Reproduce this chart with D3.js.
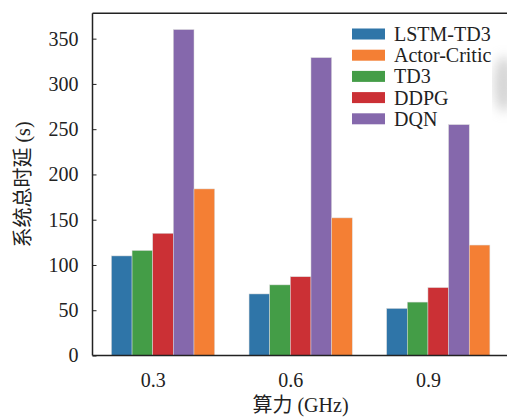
<!DOCTYPE html>
<html>
<head>
<meta charset="utf-8">
<script src="https://cdn.jsdelivr.net/npm/d3@7"></script>
<style>
  html, body { margin: 0; padding: 0; background: #fff; }
  svg { display: block; }
</style>
</head>
<body>
<svg id="chart" width="507" height="419"></svg>
<script>
// ---- data ----
const categories = ["0.3", "0.6", "0.9"];
const seriesNames = ["LSTM-TD3", "TD3", "DDPG", "DQN", "Actor-Critic"];
const legendOrder = ["LSTM-TD3", "Actor-Critic", "TD3", "DDPG", "DQN"];
const lstmTd3 = [110, 68, 52];
const td3 = [116, 78, 59];
const ddpg = [135, 87, 75];
const dqn = [360, 329, 255];
const actorCritic = [184, 152, 122];
const yTicks = [0, 50, 100, 150, 200, 250, 300, 350];
const colors = ["#2f75a8", "#449d47", "#cb3035", "#8568ac", "#f47f34"];

const seriesValues = [lstmTd3, td3, ddpg, dqn, actorCritic];
const colorOf = {};
seriesNames.forEach((n, i) => colorOf[n] = colors[i]);

const FONT = "'Liberation Serif', 'Times New Roman', Times, 'Noto Sans CJK SC', serif";
const TXT = "#222";

// ---- layout ----
const svg = d3.select("#chart");
const barW = 0.15;
const x = d3.scaleLinear().domain([-0.4375, 2.5875]).range([92.5, 508.8]);
const y = d3.scaleLinear().domain([0, 378]).range([355.5, 13.3]);

const defs = svg.append("defs");
defs.append("filter").attr("id", "blur").attr("x", "-100%").attr("y", "-100%")
  .attr("width", "300%").attr("height", "300%")
  .append("feGaussianBlur").attr("stdDeviation", 6);

// bars
const data = [];
seriesNames.forEach((name, si) => {
  categories.forEach((c, ci) => {
    data.push({ name, si, ci, v: seriesValues[si][ci] });
  });
});
svg.append("g").selectAll("rect").data(data).join("rect")
  .attr("x", d => x(d.ci + (d.si - 2) * barW))
  .attr("width", d => x(barW) - x(0))
  .attr("y", d => y(d.v))
  .attr("height", d => y(0) - y(d.v))
  .attr("fill", d => colors[d.si])
  .attr("stroke", "#d9d9d9")
  .attr("stroke-width", 0.5);

// smudge near legend
svg.append("ellipse")
  .attr("cx", 504).attr("cy", 84).attr("rx", 10).attr("ry", 28)
  .attr("fill", "#aaa").attr("opacity", 0.5)
  .attr("filter", "url(#blur)");

// legend
const lg = svg.append("g");
lg.append("rect").attr("x", 344).attr("y", 16).attr("width", 148).attr("height", 108)
  .attr("fill", "#fff");
legendOrder.forEach((name, i) => {
  const cy = 34 + i * 21.2;
  lg.append("rect").attr("x", 352).attr("y", cy - 5.5).attr("width", 33).attr("height", 11)
    .attr("fill", colorOf[name]);
  lg.append("text").attr("x", 394).attr("y", cy + 7)
    .style("font-family", FONT).style("font-size", "20px").style("fill", TXT).text(name);
});

// y axis ticks (inward) and labels
const yAxis = d3.axisLeft(y).tickValues(yTicks).tickSizeInner(-4).tickSizeOuter(0).tickPadding(14);
const gy = svg.append("g").attr("transform", `translate(${x.range()[0]},0)`).call(yAxis);
gy.select(".domain").remove();
gy.selectAll("line").attr("stroke", TXT).attr("stroke-width", 1);
gy.selectAll("text").style("font-family", FONT).style("font-size", "20px").style("fill", TXT);

// x tick labels
const xAxis = d3.axisBottom(x).tickValues([0, 1, 2]).tickFormat((d, i) => categories[i])
  .tickSizeInner(0).tickSizeOuter(0).tickPadding(17);
const gx = svg.append("g").attr("transform", `translate(0,${y(0)})`).call(xAxis);
gx.select(".domain").remove();
gx.selectAll("text").style("font-family", FONT).style("font-size", "20px").style("fill", TXT);

// spines
const sp = svg.append("g").attr("stroke", TXT).attr("stroke-width", 1.5).attr("fill", "none");
sp.append("line").attr("x1", x.range()[0]).attr("x2", x.range()[0]).attr("y1", y.range()[1]).attr("y2", y.range()[0]);
sp.append("line").attr("x1", x.range()[0]).attr("x2", x.range()[1]).attr("y1", y.range()[1]).attr("y2", y.range()[1]);
sp.append("line").attr("x1", x.range()[0]).attr("x2", x.range()[1]).attr("y1", y.range()[0]).attr("y2", y.range()[0]);
sp.append("line").attr("x1", x.range()[1]).attr("x2", x.range()[1]).attr("y1", y.range()[1]).attr("y2", y.range()[0]);

// axis titles
svg.append("text").attr("x", 300.5).attr("y", 412).attr("text-anchor", "middle")
  .style("font-family", FONT).style("font-size", "20px").style("fill", TXT).text("算力 (GHz)");
svg.append("text").attr("transform", "translate(30,184.5) rotate(-90)").attr("text-anchor", "middle")
  .style("font-family", FONT).style("font-size", "20px").style("fill", TXT).text("系统总时延 (s)");
</script>
</body>
</html>
